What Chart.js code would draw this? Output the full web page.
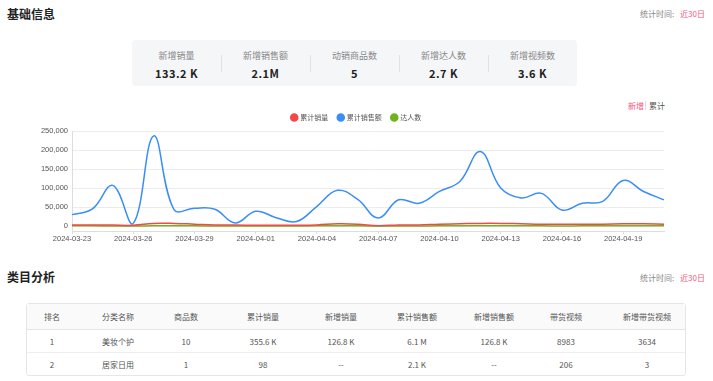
<!DOCTYPE html>
<html><head><meta charset="utf-8">
<script src="https://cdn.jsdelivr.net/npm/chart.js@4/dist/chart.umd.min.js"></script>
<style>
html,body{margin:0;padding:0;background:#fff;width:713px;height:381px;overflow:hidden;font-family:"Noto Sans CJK SC","Noto Sans",sans-serif;}
.abs{position:absolute;white-space:nowrap;}
.title{font-size:12px;font-weight:bold;color:#222;}
.stat{font-size:8px;color:#888;}
.pink{color:#f5587a;}
#box{position:absolute;left:132px;top:40px;width:445px;height:46px;background:#f5f6f8;border-radius:4px;}
.col{position:absolute;top:0;width:89px;height:46px;text-align:center;}
.col .l{position:absolute;top:9px;width:100%;font-size:9px;color:#888;}
.col .v{position:absolute;top:25px;width:100%;font-size:11px;font-weight:bold;color:#222;letter-spacing:0.5px;}
.div{position:absolute;top:15px;width:1px;height:17px;background:#e2e2e2;}
#chartWrap{position:absolute;left:0;top:104px;width:713px;height:139px;}
table{position:absolute;left:26px;top:303px;width:658px;border-collapse:separate;border-spacing:0;border:1px solid #e6e6e6;border-radius:3px;font-size:8px;color:#555;table-layout:fixed;}
th{font-weight:normal;background:#fafafa;height:25px;border-bottom:1px solid #e6e6e6;text-align:center;padding:0;}
td{height:22px;text-align:center;padding:0;border-bottom:1px solid #eee;}
tr:last-child td{border-bottom:none;}
</style></head>
<body>
<div class="abs title" style="left:7px;top:5px;">基础信息</div>
<div class="abs stat" style="left:640px;top:8px;">统计时间:</div>
<div class="abs stat pink" style="left:680px;top:8px;">近30日</div>
<div id="box"></div>
<div class="abs stat pink" style="left:628px;top:100px;">新增</div>
<div class="abs" style="left:645px;top:101px;width:1px;height:9px;background:#ddd;"></div>
<div class="abs stat" style="left:649px;top:100px;color:#555;">累计</div>
<div id="chartWrap"><canvas id="c"></canvas></div>
<div class="abs title" style="left:7px;top:268px;">类目分析</div>
<div class="abs stat" style="left:640px;top:272px;">统计时间:</div>
<div class="abs stat pink" style="left:680px;top:272px;">近30日</div>
<table id="tbl"></table>
<script>
// ---- data ----
const statLabels = ['新增销量','新增销售额','动销商品数','新增达人数','新增视频数'];
const statValues = ['133.2 K','2.1M','5','2.7 K','3.6 K'];
const dates = ['2024-03-23','2024-03-24','2024-03-25','2024-03-26','2024-03-27','2024-03-28','2024-03-29','2024-03-30','2024-03-31','2024-04-01','2024-04-02','2024-04-03','2024-04-04','2024-04-05','2024-04-06','2024-04-07','2024-04-08','2024-04-09','2024-04-10','2024-04-11','2024-04-12','2024-04-13','2024-04-14','2024-04-15','2024-04-16','2024-04-17','2024-04-18','2024-04-19','2024-04-20','2024-04-21'];
const seriesNames = ['累计销量','累计销售额','达人数'];
const salesVolume = [3000,3000,2500,2000,7000,7000,5000,3000,2500,2000,2000,2000,3000,6000,5000,1000,3000,3000,5000,6000,7000,7000,6000,5000,5000,5000,5000,6000,6000,5000];
const salesAmount = [30000,45000,107000,7000,237000,43000,47000,44000,8000,39000,22000,12000,52000,94000,70000,21000,69000,60000,91000,117000,196000,100000,74000,86000,42000,60000,65000,120000,91000,69000];
const creators = [500,500,400,300,600,600,500,400,300,400,400,300,500,600,500,300,400,400,500,600,700,600,500,500,400,500,500,600,600,500];
const yTicks = [0,50000,100000,150000,200000,250000];
const tableHead = ['排名','分类名称','商品数','累计销量','新增销量','累计销售额','新增销售额','带货视频','新增带货视频'];
const tableRows = [
  ['1','美妆个护','10','355.6 K','126.8 K','6.1 M','126.8 K','8983','3634'],
  ['2','居家日用','1','98','--','2.1 K','--','206','3']
];
const colors = ['#f5474a','#3a8ef6','#6fb31d'];

// ---- stats box ----
const box = document.getElementById('box');
statLabels.forEach((l,i)=>{
  const c=document.createElement('div');c.className='col';c.style.left=(i*89)+'px';
  c.innerHTML='<div class="l">'+l+'</div><div class="v">'+statValues[i]+'</div>';
  box.appendChild(c);
  if(i>0){const d=document.createElement('div');d.className='div';d.style.left=(i*89)+'px';box.appendChild(d);}
});
// ---- table ----
const tbl=document.getElementById('tbl');
const colW=[50,82,54,100,56,96,58,86,76];
let h='<colgroup>'+colW.map(w=>'<col style="width:'+w+'px">').join('')+'</colgroup>';
h+='<tr>'+tableHead.map(t=>'<th>'+t+'</th>').join('')+'</tr>';
tableRows.forEach(r=>{h+='<tr>'+r.map(v=>'<td>'+v+'</td>').join('')+'</tr>';});
tbl.innerHTML=h;

// ---- chart ----
const data=[salesVolume,salesAmount,creators];
new Chart(document.getElementById('c'),{
  type:'line',
  data:{labels:dates,datasets:seriesNames.map((n,i)=>({label:n,data:data[i],borderColor:colors[i],backgroundColor:colors[i],borderWidth:1.5,pointRadius:0,tension:0.4,fill:false}))},
  options:{
    responsive:true,maintainAspectRatio:false,animation:false,
    layout:{padding:0},
    plugins:{
      tooltip:{enabled:false},
      legend:{position:'top',labels:{usePointStyle:true,pointStyle:'circle',boxWidth:5,boxHeight:5,padding:10,font:{size:7,family:'"Noto Sans CJK SC"'},color:'#555'}}
    },
    scales:{
      x:{grid:{drawOnChartArea:false,color:'#ddd',tickLength:3},border:{color:'#ddd'},
         ticks:{autoSkip:false,maxRotation:0,font:{size:7.5},color:'#555',padding:0,
           callback:function(v,i){return i%3===0?dates[i]:null;}}},
      y:{min:-13000,max:250000,grid:{color:'#ececec',drawTicks:false},border:{display:true,color:'#ddd'},
         afterBuildTicks:function(s){s.ticks=yTicks.map(v=>({value:v}));},
         afterFit:function(s){s.width=72;},
         ticks:{font:{size:7.5},color:'#555',padding:4,callback:v=>v.toLocaleString('en-US')}},
      yr:{position:'right',display:true,grid:{display:false},border:{display:false},ticks:{display:false},
         afterFit:function(s){s.width=49;}}
    }
  }
});
</script>
</body></html>
